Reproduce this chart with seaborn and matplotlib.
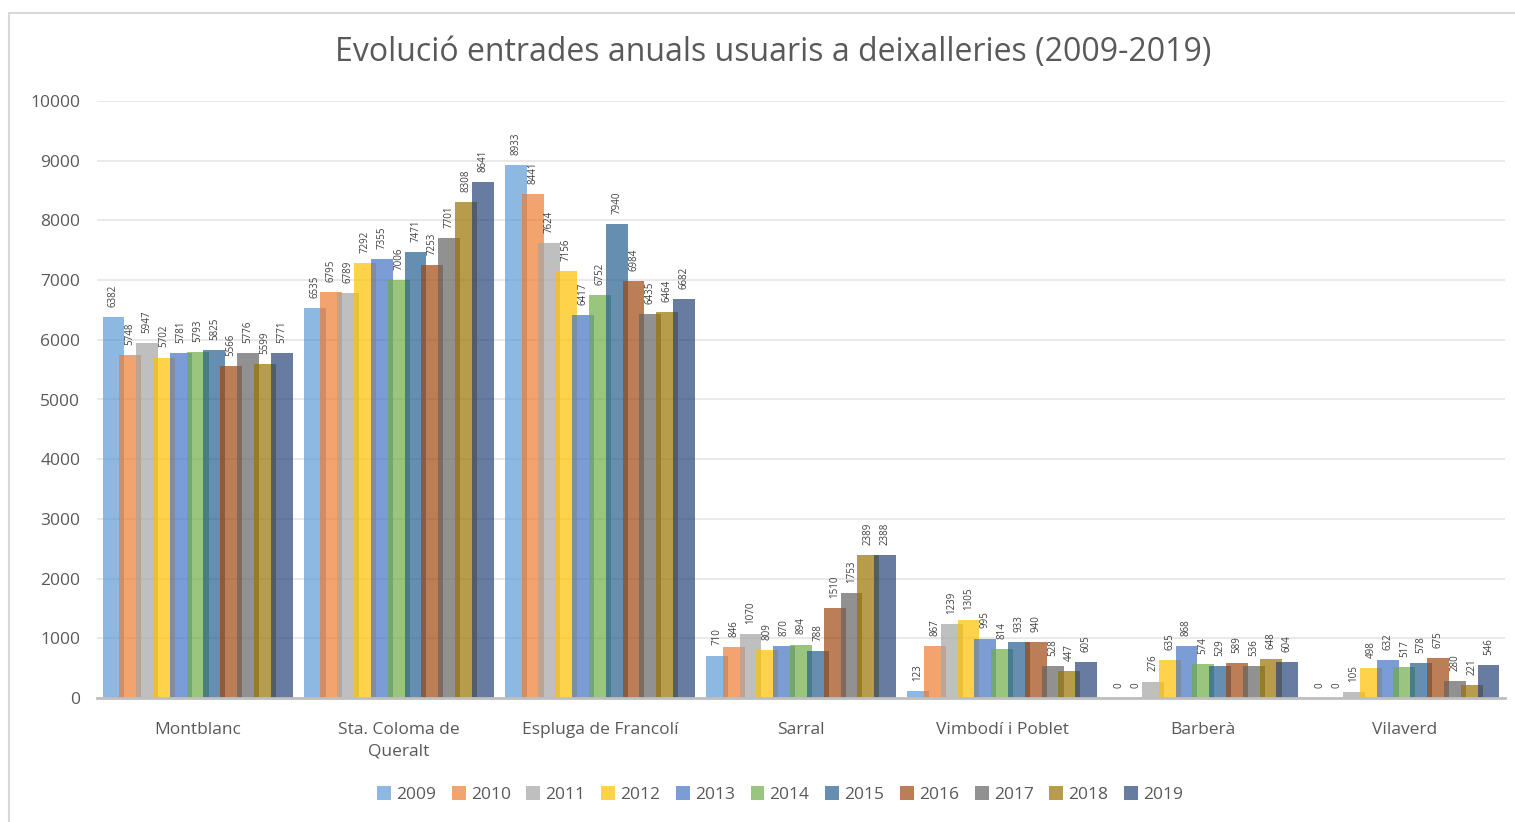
import numpy as np
import pandas as pd
import matplotlib
matplotlib.use("Agg")
import matplotlib.pyplot as plt
from matplotlib.patches import Rectangle
import seaborn as sns

TITLE = "Evolució entrades anuals usuaris a deixalleries (2009-2019)"
TOWNS = ["Montblanc", "Sta. Coloma de\nQueralt", "Espluga de Francolí", "Sarral",
         "Vimbodí i Poblet", "Barberà", "Vilaverd"]
YEARS = [str(y) for y in range(2009, 2020)]

montblanc = [6382, 5748, 5947, 5702, 5781, 5793, 5825, 5566, 5776, 5599, 5771]
sta_coloma = [6535, 6795, 6789, 7292, 7355, 7006, 7471, 7253, 7701, 8308, 8641]
espluga = [8933, 8441, 7624, 7156, 6417, 6752, 7940, 6984, 6435, 6464, 6682]
sarral = [710, 846, 1070, 809, 870, 894, 788, 1510, 1753, 2389, 2388]
vimbodi = [123, 867, 1239, 1305, 995, 814, 933, 940, 528, 447, 605]
barbera = [0, 0, 276, 635, 868, 574, 529, 589, 536, 648, 604]
vilaverd = [0, 0, 105, 498, 632, 517, 578, 675, 280, 221, 546]

COLORS = ["#5B9BD5", "#ED7D31", "#A5A5A5", "#FFC000", "#4472C4", "#70AD47",
          "#255E91", "#9E480E", "#636363", "#997300", "#264478"]

series = [montblanc, sta_coloma, espluga, sarral, vimbodi, barbera, vilaverd]
rows = []
for town, vals in zip(TOWNS, series):
    for year, v in zip(YEARS, vals):
        rows.append({"town": town, "year": year, "value": v})
df = pd.DataFrame(rows)

sns.set_style("white")
plt.rcParams["font.family"] = ["Open Sans", "DejaVu Sans"]

fig = plt.figure(figsize=(15.15, 8.22), dpi=100)
ax = fig.add_axes([97 / 1515, 1 - 698 / 822, 1408 / 1515, 597 / 822])

sns.barplot(data=df, x="town", y="value", hue="year", palette=COLORS,
            width=0.92, alpha=0.7, saturation=1, linewidth=0, dodge=True,
            ax=ax, legend=True)

# widen bars so neighbours overlap like the original
grey = "#404040"
for patch in ax.patches:
    if patch.get_height() is None or patch.get_width() == 0:
        continue
    w = patch.get_width()
    cx = patch.get_x() + w / 2
    new_w = w * 1.3
    patch.set_width(new_w)
    patch.set_x(cx - new_w / 2)

for cont in ax.containers:
    for bar in cont:
        h = bar.get_height()
        ax.text(bar.get_x() + bar.get_width() / 2, h + 170, f"{int(h)}",
                rotation=90, ha="center", va="bottom", fontsize=7, color=grey)

ax.set_ylim(0, 10000)
ax.set_xlim(-0.5, 6.5)
ax.set_yticks(np.arange(0, 10001, 1000))
ax.yaxis.grid(True, color="#E5E5E5", linewidth=1.2)
ax.set_axisbelow(True)
for s in ["top", "right", "left"]:
    ax.spines[s].set_visible(False)
ax.spines["bottom"].set_color("#BFBFBF")
ax.spines["bottom"].set_linewidth(2)
ax.tick_params(axis="both", length=0, labelsize=12.5, colors="#595959", pad=12)
ax.tick_params(axis="x", pad=17)
for lbl in ax.get_xticklabels():
    lbl.set_linespacing(1.45)
ax.set_xlabel("")
ax.set_ylabel("")

handles, labels = ax.get_legend_handles_labels()
ax.legend(handles, labels, loc="center", bbox_to_anchor=(683 / 1408, -0.162),
          ncol=11, frameon=False, fontsize=12.5, handlelength=0.8, handleheight=0.8,
          handletextpad=0.3, columnspacing=0.9, labelcolor="#595959")

fig.text(773 / 1515, 1 - 52 / 822, TITLE, ha="center", va="center",
         fontsize=23, color="#595959")

fig.patches.append(Rectangle((9 / 1515, -0.05), 1.1, 1 - 13 / 822 + 0.05,
                             transform=fig.transFigure, fill=False,
                             edgecolor="#D9D9D9", linewidth=1.5))

fig.savefig("out.png", dpi=100)
